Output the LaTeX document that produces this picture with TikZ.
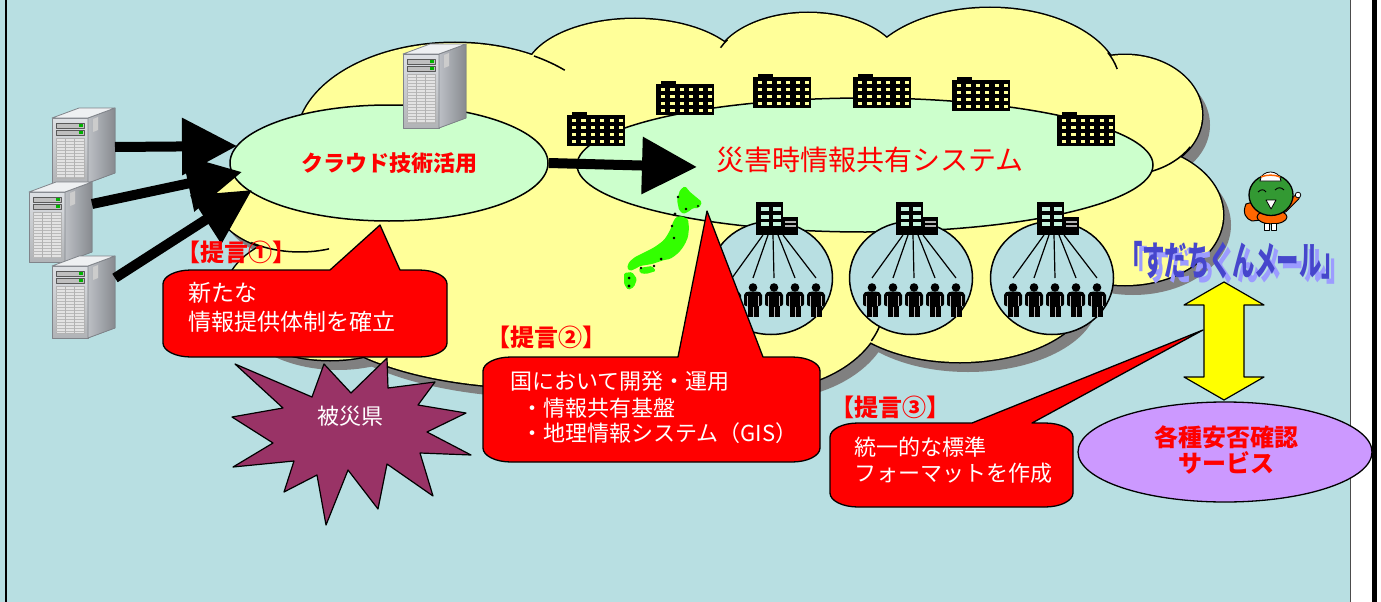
\documentclass[tikz,border=0pt]{standalone}
\usepackage{fontspec}
\usepackage{graphicx}
\newfontfamily\jp{Noto Sans CJK JP}
\usetikzlibrary{arrows.meta,shapes.geometric}

\definecolor{sky}{HTML}{B8DFE2}
\definecolor{cloudy}{HTML}{FFFF99}
\definecolor{cloudshade}{HTML}{808080}
\definecolor{mint}{HTML}{CCFFCC}
\definecolor{alert}{HTML}{FF0000}
\definecolor{plum}{HTML}{993366}
\definecolor{lilac}{HTML}{CC99FF}
\definecolor{lemon}{HTML}{FFFF00}
\definecolor{winyellow}{HTML}{FFFF99}
\definecolor{winmint}{HTML}{C4F2DC}
\definecolor{sudachi}{HTML}{339933}
\definecolor{mikan}{HTML}{FF6600}
\definecolor{mailblue}{HTML}{4646CC}
\definecolor{mailshade}{HTML}{9C9CFF}
\definecolor{japan}{HTML}{33FF00}
\definecolor{srvfront}{HTML}{DDE0E4}
\definecolor{srvside}{HTML}{B4B8BE}
\definecolor{srvtop}{HTML}{EEF0F2}
\definecolor{srvedge}{HTML}{80848A}

% bumps of the cloud: centre x / centre y / x radius / y radius
\newcommand\cloudlist{455/140/158/97, 635/75/110/56, 808/70/95/57, 990/85/130/77,
  1125/115/77/60, 1125/215/98/70, 960/290/130/72, 760/300/125/90, 540/300/230/88,
  300/200/85/52, 330/295/105/65, 720/200/400/150}

% rounded speech box with a pointer on its top edge
% #1 tip name, #2 left, #3 top, #4 right, #5 bottom, #6/#7 pointer base, #8/#9 tip
\newcommand\speechbox[9]{%
  \filldraw[calloutfill] (#2+28,#3) -- (#6,#3) -- (#8,#9) -- (#7,#3) -- (#4-28,#3)
    arc[start angle=270,end angle=360,x radius=28,y radius=14] -- (#4,#5-14)
    arc[start angle=0,end angle=90,x radius=28,y radius=14] -- (#2+28,#5)
    arc[start angle=90,end angle=180,x radius=28,y radius=14] -- (#2,#3+14)
    arc[start angle=180,end angle=270,x radius=28,y radius=14] -- cycle;
  \coordinate (#1) at (#8,#9);}

% service name printed over a soft offset copy of itself
\newcommand\mailmark[1]{%
  \rlap{\hspace{5pt}\raisebox{-5pt}{\color{mailshade}\scalebox{0.56}[1]{#1}}}%
  {\color{mailblue}\scalebox{0.56}[1]{#1}}}

\tikzset{
  calloutfill/.style={fill=alert,draw=black,line width=1.3pt},
  mintoval/.style={ellipse,fill=mint,draw=black,line width=1.5pt,inner sep=0pt},
  grpcircle/.style={ellipse,fill=sky,draw=black,line width=1.5pt,inner sep=0pt,
    minimum width=123pt,minimum height=113pt},
  fanline/.style={black,line width=1.2pt},
  bigarrow/.style={line width=10pt,-{Triangle[length=55pt,width=55pt]}},
  cloudline/.style={black,line width=1.5pt},
  whitetxt/.style={font=\jp\fontsize{22}{26}\selectfont,text=white,inner sep=0pt,anchor=west},
  whitebig/.style={font=\jp\fontsize{23}{27}\selectfont,text=white,inner sep=0pt,anchor=west},
  proposal/.style={font=\jp\bfseries\fontsize{24}{28}\selectfont,text=alert,inner sep=0pt},
  redbold/.style={font=\jp\bfseries\fontsize{24}{28}\selectfont,text=alert,inner sep=0pt},
  mailtxt/.style={font=\jp\bfseries\fontsize{40}{44}\selectfont,inner sep=0pt},
  server/.pic={
    \filldraw[top color=srvfront,bottom color=srvfront!80!black,draw=srvedge,line width=0.8pt]
      (0,0) rectangle (36,#1);
    \filldraw[left color=srvside!90!white,right color=srvside!75!black,draw=srvedge,line width=0.8pt]
      (36,0) -- (63,-10) -- (63,#1-10) -- (36,#1) -- cycle;
    \filldraw[fill=srvtop,draw=srvedge,line width=0.8pt]
      (0,0) -- (27,-10) -- (63,-10) -- (36,0) -- cycle;
    \fill[gray!40] (41,1) -- (46,-1) -- (46,12) -- (41,14) -- cycle;
    \filldraw[fill=gray!50,draw=gray!70!black,line width=0.4pt] (4,5) rectangle (32,10);
    \filldraw[fill=gray!50,draw=gray!70!black,line width=0.4pt] (4,12) rectangle (32,17);
    \fill[green!70!black] (27,6.3) rectangle (31,8.7);
    \fill[green!70!black] (27,13.3) rectangle (31,15.7);
    \filldraw[fill=gray!22,draw=gray!60,line width=0.4pt] (4,20) rectangle (32,#1-5);
    \begin{scope}
      \clip (4,20) rectangle (32,#1-5);
      \foreach \gy in {23,26,...,95} \draw[gray!55,line width=0.5pt] (4,\gy) -- (32,\gy);
      \draw[gray!60,line width=0.6pt] (13.3,20) -- (13.3,100) (22.6,20) -- (22.6,100);
    \end{scope}
    \coordinate (-n) at (63,12);
    \coordinate (-m) at (63,29);
  },
  office/.pic={
    \fill[black] (0,0) rectangle (58,31);
    \fill[black] (5,-3) rectangle (20,0);
    \foreach \i in {0,...,5} \foreach \j in {0,...,3}
      \fill[winyellow] (5+9.4*\i,4+7*\j) rectangle ++(4.2,3.4);
  },
  hqbldg/.pic={
    \fill[black] (0,0) rectangle (27,33);
    \foreach \wx in {5,17} \foreach \wy in {5,12.5,20}
      \fill[winmint] (\wx,\wy) rectangle ++(8,4);
    \fill[black] (27,15) rectangle (42,33);
    \fill[gray!60] (29,19) rectangle (40,20.5);
    \fill[gray!60] (29,23) rectangle (40,24.5);
    \foreach \k/\bx in {1/7,2/12,3/17,4/22,5/27} \coordinate (-b\k) at (\bx,33);
  },
  person/.pic={
    \fill[black] (0,5.5) circle[radius=4.3];
    \fill[black,rounded corners=2pt] (-9,24) -- (-9,11) -- (-5,9.5) -- (5,9.5) -- (9,11) -- (9,24) -- cycle;
    \fill[black] (-5.5,23) rectangle (5.5,35);
    \draw[gray!55,line width=0.6pt] (-5.5,14) -- (-5.5,24) (5.5,14) -- (5.5,24) (0,25) -- (0,35);
    \coordinate (-top) at (0,-4);
  },
}

\begin{document}
\begin{tikzpicture}[x=1pt,y=-1pt,line join=round]
\useasboundingbox (0,0) rectangle (1381,602);

% page ground and frame
\fill[sky] (0,0) rectangle (1351,602);
\fill[white] (1351,0) rectangle (1381,602);
\fill[black] (1372,0) rectangle (1377,602);
\draw[line width=1.5pt] (6,0) -- (6,602);
\draw[gray!60!black,line width=1pt] (1350.5,0) -- (1350.5,602);

% cloud: shadow, outline, fill
\begin{scope}[shift={(8,10)}]
  \foreach \cx/\cy/\rx/\ry in \cloudlist
    \fill[cloudshade] (\cx,\cy) ellipse[x radius=\rx,y radius=\ry];
\end{scope}
\foreach \cx/\cy/\rx/\ry in \cloudlist
  \draw[black,line width=3pt] (\cx,\cy) ellipse[x radius=\rx,y radius=\ry];
\foreach \cx/\cy/\rx/\ry in \cloudlist
  \fill[cloudy] (\cx,\cy) ellipse[x radius=\rx,y radius=\ry];
% inner seams of the cloud bumps
\foreach \cx/\cy/\rx/\ry/\sa/\ea in {455/140/158/97/-60/-46, 808/70/95/57/203/212,
    990/85/130/77/-25/-12, 1125/115/77/60/32/70, 760/300/125/90/0/27, 300/200/85/52/70/125}
  \draw[cloudline] ([shift={(\sa:{\rx} and {\ry})}]\cx,\cy)
    arc[start angle=\sa,end angle=\ea,x radius=\rx,y radius=\ry];

% the two systems inside the cloud
\node[mintoval,minimum width=318pt,minimum height=116pt] (cloudtech) at (389,163) {};
\node[mintoval,minimum width=576pt,minimum height=134pt] (sharesys) at (865,165) {};
\node[font=\jp\bfseries\fontsize{22}{26}\selectfont,text=alert,inner sep=0pt] (cloudtxt) at (389,163) {クラウド技術活用};
\node[font=\jp\fontsize{28}{32}\selectfont,text=alert,inner sep=0pt] (systxt) at (870,160) {災害時情報共有システム};

% server sitting on the cloud
\pic (stop) at (403,54) {server=74};

% offices along the system
\foreach \n/\ox/\oy in {1/567/115,2/656/84,3/753/77,4/853/77,5/952/80,6/1057/115}
  \pic (off\n) at (\ox,\oy) {office};

% municipal groups: headquarters fanning out to residents
\foreach \g/\cx in {1/771,2/911,3/1052}{
  \node[grpcircle] (grp\g) at (\cx,278) {};
  \pic (hq\g) at (\cx-15,202) {hqbldg};
  \foreach \k/\dx in {1/-39,2/-18,3/3,4/24,5/45}{
    \pic (p\g\k) at (\cx+\dx,282) {person};
    \draw[fanline] (hq\g-b\k) -- (p\g\k-top);
  }
}

% map of Japan
\begin{scope}[rounded corners=1.5pt]
\fill[japan] (677,200) -- (680,190) -- (685,186) -- (690,192) -- (696,197) -- (702,202)
  -- (699,208) -- (693,208) -- (688,212) -- (683,214) -- (679,210) -- cycle;
\fill[japan] (681,216) -- (688,219) -- (689,228) -- (688,237) -- (685,244) -- (681,250)
  -- (676,255) -- (670,259) -- (664,260) -- (658,262) -- (652,264) -- (646,265) -- (640,266)
  -- (635,269) -- (630,271) -- (627,268) -- (629,262) -- (635,257) -- (641,254) -- (647,251)
  -- (653,248) -- (659,244) -- (664,240) -- (668,234) -- (671,228) -- (673,222) -- (676,217) -- cycle;
\fill[japan] (624,273) -- (632,272) -- (637,279) -- (634,287) -- (628,290) -- (624,284) -- cycle;
\fill[japan] (639,268) -- (652,266) -- (656,271) -- (646,274) -- (640,273) -- cycle;
\end{scope}
\foreach \bx/\by/\br in {678/197/1.4, 675/214/1.6, 686/209/1.3, 672/226/1.4, 674/238/1.3,
    661/259/1.5, 654/266/1.3, 641/268/1.3, 629/278/1.5, 629/286/1.6, 698/206/1.2}
  \fill[black] (\bx,\by) circle[radius=\br];

% servers feeding the cloud service
\pic (s1) at (52,118) {server=65};
\pic (s2) at (29,192) {server=70};
\pic (s3) at (52,266) {server=72};
\coordinate (tipA) at (237,146);
\coordinate (tipB) at (242,172);
\coordinate (tipC) at (252,190);
\coordinate (tipD) at (697,167);
\draw[bigarrow] (s1-m) -- (tipA);
\draw[bigarrow] (s2-n) -- (tipB);
\draw[bigarrow] (s3-n) -- (tipC);
\draw[bigarrow] (cloudtech.east) -- (tipD);

% two-way link to the safety confirmation services
\filldraw[fill=lemon,draw=black,line width=1.2pt] (1224,282) -- (1264,305) -- (1244,305)
  -- (1244,377) -- (1264,377) -- (1224,400) -- (1184,377) -- (1204,377) -- (1204,305)
  -- (1184,305) -- cycle;
\node[ellipse,fill=lilac,draw=black,line width=1.3pt,minimum width=294pt,minimum height=100pt,inner sep=0pt] (safety) at (1225,452) {};
\node[redbold] (safetya) at (1226,437) {各種安否確認};
\node[redbold] (safetyb) at (1226,463) {サービス};

% affected prefecture
\filldraw[fill=plum,draw=black,line width=1.2pt] (235,364) -- (312,397) -- (324,364)
  -- (351,393) -- (387,358) -- (388,388) -- (435,382) -- (418,405) -- (466,413)
  -- (427,432) -- (471,455) -- (420,453) -- (433,496) -- (387,464) -- (378,509)
  -- (348,470) -- (326,525) -- (317,475) -- (284,492) -- (294,461) -- (233,467)
  -- (273,443) -- (232,417) -- (283,408) -- cycle;
\node[font=\jp\fontsize{22}{26}\selectfont,text=white,inner sep=0pt] (pref) at (350,416) {被災県};

% proposals
\speechbox{tip1}{163}{270}{447}{357}{330}{400}{380}{225}
\node[whitebig] (p1a) at (188,293) {新たな};
\node[whitebig] (p1b) at (188,321.5) {情報提供体制を確立};
\speechbox{tip2}{483}{357}{820}{462}{678}{763}{707}{211}
\node[whitetxt] (p2a) at (510,381) {国において開発・運用};
\node[whitetxt] (p2b) at (521,408) {・情報共有基盤};
\node[whitetxt] (p2c) at (521,433) {・地理情報システム（GIS）};
\speechbox{tip3}{830}{423}{1073}{507}{972}{1032}{1203}{330}
\node[whitetxt] (p3a) at (854,447) {統一的な標準};
\node[whitetxt] (p3b) at (854,473) {フォーマットを作成};

\node[proposal] (lab1) at (236,252) {【提言①】};
\node[proposal] (lab2) at (546,337.5) {【提言②】};
\node[proposal] (lab3) at (890,407) {【提言③】};

% mail service name
\node[mailtxt] (mailname) at (1232,263) {\mailmark{「すだちくんメール」}};

% mascot
\filldraw[fill=mikan,draw=black,line width=1pt] (1246,204) .. controls (1252,201) and (1260,203) .. (1264,207)
  -- (1270,219) -- (1252,221) .. controls (1246,219) and (1242,213) .. cycle;
\filldraw[fill=mikan,draw=black,line width=1pt] (1272,217) ellipse[x radius=15,y radius=7];
\draw[black,line width=6pt,line cap=round] (1284,210) -- (1297,197);
\draw[mikan,line width=4pt,line cap=round] (1284,210) -- (1297,197);
\filldraw[fill=white,draw=black,line width=0.8pt] (1298,195) circle[radius=2.8];
\filldraw[fill=white,draw=black,line width=0.8pt] (1264,223) rectangle (1269,230);
\filldraw[fill=white,draw=black,line width=0.8pt] (1271,223) rectangle (1276,230);
\filldraw[fill=sudachi,draw=black,line width=1.3pt] (1271,195) ellipse[x radius=22,y radius=20.5];
\filldraw[fill=white,draw=black,line width=0.8pt] (1260,181) .. controls (1261,169) and (1280,169) .. (1281,181) -- cycle;
\draw[mikan,line width=1.5pt] (1261,177) .. controls (1266,174.5) and (1275,174.5) .. (1280,177);
\draw[black,line width=0.9pt] (1258,192) .. controls (1261,189) and (1264,189) .. (1266,192);
\draw[black,line width=0.9pt] (1275,190) .. controls (1278,187) and (1281,187) .. (1284,190);
\filldraw[fill=white,draw=black,line width=0.8pt] (1266,200) -- (1276,200) -- (1271,209) -- cycle;
\end{tikzpicture}
\end{document}
